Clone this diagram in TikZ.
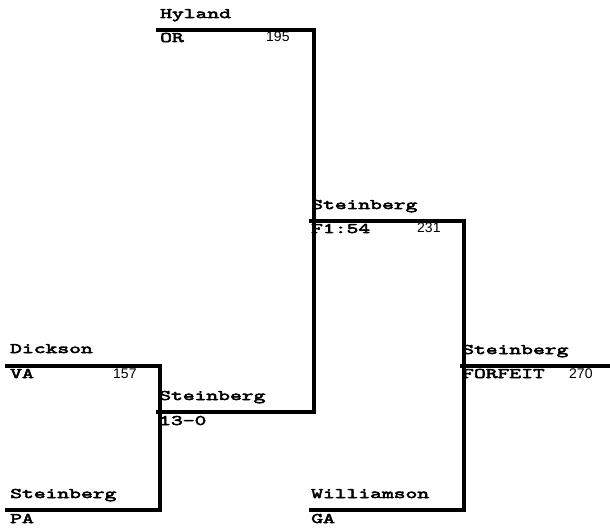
\documentclass[tikz,border=0pt]{standalone}
\usepackage{fontspec}
\usepackage{tikz}
\usetikzlibrary{calc}
\newfontfamily\bracketfont[FakeStretch=1.58,FakeBold=4]{Latin Modern Mono}
\newfontfamily\scorefont{Liberation Sans}
\tikzset{
  bline/.style={line width=4pt},
  pname/.style={anchor=base west, inner sep=0pt, font=\bracketfont\fontsize{14.5}{14.5}\selectfont},
  pinfo/.style={anchor=base west, inner sep=0pt, font=\bracketfont\fontsize{14.5}{14.5}\selectfont},
  pscore/.style={anchor=base west, inner sep=0pt, font=\scorefont\fontsize{14}{14}\selectfont}
}

\begin{document}
\begin{tikzpicture}[x=1pt,y=-1pt]
    \useasboundingbox (0,0) rectangle (610,529);
    % first round
    \coordinate (dick) at (5,366);
    \coordinate (stpa) at (5,510);
    \node[pname] (dickname) at ($(dick)+(5,-13)$) {Dickson};
    \node[pinfo] (dickinfo) at ($(dick)+(5,12)$) {VA};
    \node[pscore] (dickscore) at ($(dick)+(108,12)$) {157};
    \node[pname] (stpaname) at ($(stpa)+(5,-12)$) {Steinberg};
    \node[pinfo] (stpainfo) at ($(stpa)+(5,13)$) {PA};
    \draw[bline] (dick) -- (160,366) -- (160,510) -- (stpa);
    % second round
    \coordinate (hyl) at (156,30);
    \coordinate (st13) at (156,412);
    \node[pname] (hylname) at ($(hyl)+(4,-12)$) {Hyland};
    \node[pinfo] (hylinfo) at ($(hyl)+(4,12)$) {OR};
    \node[pscore] (hylscore) at ($(hyl)+(110,12)$) {195};
    \node[pname] (st13name) at ($(st13)+(3,-12)$) {Steinberg};
    \node[pinfo] (st13info) at ($(st13)+(3,13)$) {13-0};
    \draw[bline] (hyl) -- (314,30) -- (314,412) -- (st13);
    % third round
    \coordinate (stf1) at (309,221);
    \coordinate (will) at (309,510);
    \node[pname] (stf1name) at ($(stf1)+(2,-12)$) {Steinberg};
    \node[pinfo] (stf1info) at ($(stf1)+(2,12)$) {F1:54};
    \node[pscore] (stf1score) at ($(stf1)+(108,12)$) {231};
    \node[pname] (willname) at ($(will)+(2,-12)$) {Williamson};
    \node[pinfo] (willinfo) at ($(will)+(2,13)$) {GA};
    \draw[bline] (stf1) -- (464,221) -- (464,510) -- (will);
    % final
    \coordinate (fin) at (460,366);
    \node[pname] (finname) at ($(fin)+(2,-12)$) {Steinberg};
    \node[pinfo] (fininfo) at ($(fin)+(2,12)$) {FORFEIT};
    \node[pscore] (finscore) at ($(fin)+(109,12)$) {270};
    \draw[bline] (fin) -- (610,366);
\end{tikzpicture}
\end{document}
